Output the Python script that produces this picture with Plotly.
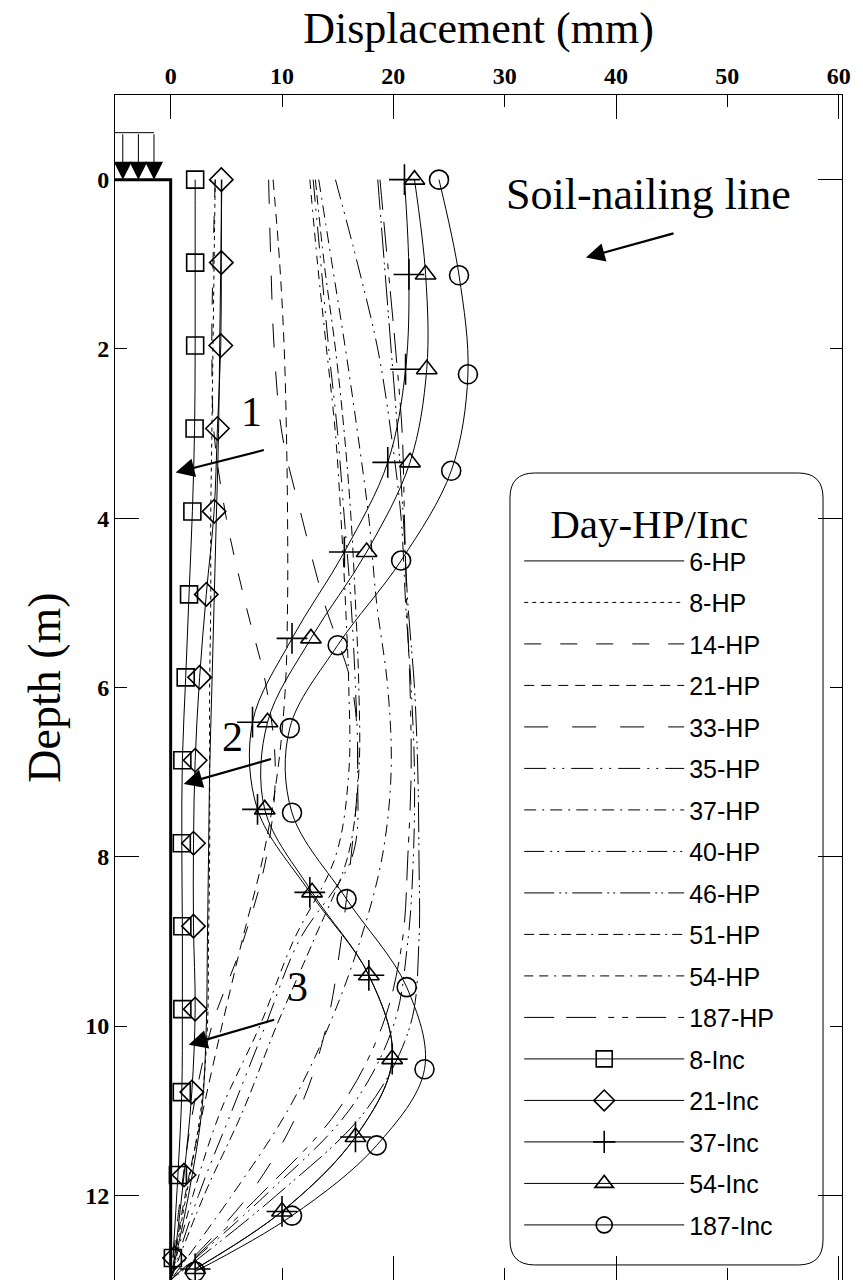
import plotly.graph_objects as go

# ---------------- data ----------------
depth_hp = [0, 1, 2, 3, 4, 5, 6, 7, 8, 9, 10, 11, 12, 13]
hp_6 = [4.6, 4.5, 4.4, 4.3, 4.1, 3.9, 3.7, 3.5, 3.4, 3.3, 3.2, 2.8, 1.6, 0]
hp_8 = [4.0, 3.9, 3.8, 3.7, 3.6, 3.6, 3.5, 3.5, 3.5, 3.4, 3.3, 2.7, 1.4, 0]
hp_14 = [4.0, 3.8, 3.7, 3.9, 5.0, 6.7, 8.6, 9.4, 8.6, 6.5, 3.7, 2.0, 0.9, 0]
hp_21 = [9.2, 9.8, 10.2, 10.4, 10.5, 10.5, 10.3, 9.6, 8.3, 6.4, 4.6, 2.9, 1.3, 0]
hp_33 = [8.8, 9.0, 9.3, 10.0, 11.8, 13.8, 16.3, 16.8, 16.2, 15.3, 14.0, 11.5, 7.0, 0]
hp_35 = [12.8, 13.5, 14.2, 15.0, 15.6, 16.2, 16.6, 16.8, 16.3, 11.5, 8.5, 5.5, 2.5, 0]
hp_37 = [13.3, 14.5, 15.7, 16.8, 17.8, 18.5, 19.5, 19.8, 19.0, 17.0, 14.2, 10.5, 5.5, 0]
hp_40 = [14.8, 16.8, 18.6, 19.8, 20.7, 21.1, 21.6, 21.9, 21.8, 21.3, 20.0, 16.0, 8.5, 0]
hp_46 = [18.6, 19.2, 19.8, 20.4, 20.9, 21.3, 21.9, 22.2, 22.3, 22.3, 21.5, 17.5, 9.5, 0]
hp_51 = [13.0, 13.8, 14.8, 15.6, 16.2, 16.6, 16.9, 16.9, 15.9, 12.8, 9.5, 6.5, 3.0, 0]
hp_54 = [12.5, 13.2, 14.0, 14.8, 15.3, 15.7, 16.0, 16.0, 14.8, 11.0, 8.0, 4.5, 2.0, 0]
hp_187 = [18.8, 19.5, 20.2, 20.8, 21.0, 21.2, 21.5, 21.6, 21.3, 20.8, 19.0, 15.0, 8.0, 0]

depth_inc_a = [0, 0.98, 1.96, 2.94, 3.92, 4.9, 5.88, 6.86, 7.84, 8.82, 9.8, 10.78, 11.76, 12.74]
inc_8 = [2.2, 2.2, 2.2, 2.15, 1.95, 1.65, 1.35, 1.05, 1.0, 1.05, 1.05, 1.0, 0.65, 0.2]
inc_21 = [4.55, 4.55, 4.5, 4.2, 3.9, 3.2, 2.6, 2.2, 2.05, 2.05, 2.2, 1.9, 1.2, 0.35]

depth_inc_b = [0, 1.12, 2.24, 3.34, 4.40, 5.42, 6.41, 7.44, 8.42, 9.40, 10.39, 11.31, 12.19, 12.87]
inc_37 = [21.0, 21.4, 21.1, 19.5, 15.6, 10.9, 7.35, 7.8, 12.5, 17.8, 19.9, 16.6, 10.0, 2.2]
inc_54 = [21.9, 22.9, 23.0, 21.5, 17.6, 12.6, 8.7, 8.45, 12.7, 17.8, 19.9, 16.6, 10.0, 2.2]
depth_inc_c = [0, 1.13, 2.30, 3.44, 4.50, 5.50, 6.48, 7.48, 8.50, 9.54, 10.51, 11.41, 12.24, 12.90]
inc_187 = [24.1, 25.9, 26.7, 25.2, 20.7, 15.0, 10.7, 10.9, 15.8, 21.2, 22.8, 18.5, 10.9, 2.2]

wall_x = [-5, 0, 0]
wall_depth = [0, 0, 13]
load_x = [-4.3, -2.9, -1.5]
load_top = -0.555

x_ticks = [0, 10, 20, 30, 40, 50, 60]
x_major = [0, 20, 40, 60]
y_ticks = [0, 2, 4, 6, 8, 10, 12]
y_major = [0, 4, 8, 12]

SERIF = "Liberation Serif"
SANS = "Liberation Sans"

hp_series = [
    ("6-HP", hp_6, "solid"),
    ("8-HP", hp_8, "4px,4px"),
    ("14-HP", hp_14, "17px,19px"),
    ("21-HP", hp_21, "10px,7px"),
    ("33-HP", hp_33, "24px,24px"),
    ("35-HP", hp_35, "22px,7px,2px,7px,2px,7px"),
    ("37-HP", hp_37, "12px,6px,2px,6px"),
    ("40-HP", hp_40, "20px,6px,2px,5px,2px,6px"),
    ("46-HP", hp_46, "30px,5px,2px,4px,2px,5px"),
    ("51-HP", hp_51, "10px,5px,10px,5px,2px,5px"),
    ("54-HP", hp_54, "9px,6px,9px,6px,2px,6px"),
    ("187-HP", hp_187, "30px,12px,30px,12px,6px,8px,6px,8px"),
]

inc_series = [
    ("8-Inc", depth_inc_a, inc_8, "square-open", 17),
    ("21-Inc", depth_inc_a, inc_21, "diamond-open", 18),
    ("37-Inc", depth_inc_b, inc_37, "cross-thin-open", 22),
    ("54-Inc", depth_inc_b, inc_54, "triangle-up-open", 18),
    ("187-Inc", depth_inc_c, inc_187, "circle-open", 19),
]

fig = go.Figure()

for name, xs, dash in hp_series:
    fig.add_trace(go.Scatter(
        x=xs, y=depth_hp, mode="lines", name=name, legendgroup=name,
        line=dict(color="black", width=1, dash=dash, shape="spline", smoothing=1.0),
    ))

for name, ds, xs, sym, sz in inc_series:
    fig.add_trace(go.Scatter(
        x=xs, y=ds, mode="lines+markers", name=name, legendgroup=name,
        line=dict(color="black", width=1, shape="spline", smoothing=1.0),
        marker=dict(symbol=sym, size=sz, color="black", line=dict(color="black", width=1.6)),
    ))

# wall
fig.add_trace(go.Scatter(x=wall_x, y=wall_depth, mode="lines", showlegend=False,
                         line=dict(color="black", width=3), hoverinfo="skip"))
# load frame
fig.add_trace(go.Scatter(x=[wall_x[0], load_x[-1]], y=[load_top, load_top], mode="lines",
                         showlegend=False, line=dict(color="black", width=1), hoverinfo="skip"))
# dummy for overlay axes (long ticks)
fig.add_trace(go.Scatter(x=[None], y=[None], xaxis="x2", yaxis="y2", showlegend=False,
                         mode="markers", hoverinfo="skip"))

annotations = []
for lx in load_x:
    annotations.append(dict(x=lx, y=0, ax=lx, ay=load_top, xref="x", yref="y", axref="x", ayref="y",
                            text="", showarrow=True, arrowhead=2, arrowsize=3.6, arrowwidth=1,
                            arrowcolor="black", standoff=0))

# labelled arrows: (text, text_x, text_y, tail_x, tail_y, head_x, head_y, size)
labels = [
    ("Soil-nailing line", 42.9, 0.18, 45.3, 0.63, 37.3, 0.92, 44),
    ("1", 7.3, 2.74, 8.5, 3.19, 0.45, 3.46, 42),
    ("2", 5.55, 6.59, 9.15, 6.84, 1.17, 7.14, 42),
    ("3", 11.4, 9.54, 9.43, 9.92, 1.62, 10.22, 42),
]
for txt, tx, ty, ax_, ay_, hx, hy, fs in labels:
    annotations.append(dict(x=tx, y=ty, xref="x", yref="y", text=txt, showarrow=False,
                            font=dict(family=SERIF, size=fs, color="black")))
    annotations.append(dict(x=hx, y=hy, ax=ax_, ay=ay_, xref="x", yref="y", axref="x", ayref="y",
                            text="", showarrow=True, arrowhead=2, arrowsize=1.7, arrowwidth=2.2,
                            arrowcolor="black", standoff=0))

# rounded legend box (paper coords)
x0, x1, y0, y1 = 0.5433, 0.9739, 0.0127, 0.681
rx, ry = 0.034, 0.021
box = (f"M {x0+rx},{y1} L {x1-rx},{y1} Q {x1},{y1} {x1},{y1-ry} L {x1},{y0+ry} "
       f"Q {x1},{y0} {x1-rx},{y0} L {x0+rx},{y0} Q {x0},{y0} {x0},{y0+ry} "
       f"L {x0},{y1-ry} Q {x0},{y1} {x0+rx},{y1} Z")

fig.update_layout(
    width=863, height=1280,
    margin=dict(l=115, r=21, t=95, b=0),
    paper_bgcolor="white", plot_bgcolor="white",
    font=dict(family=SERIF, color="black"),
    shapes=[dict(type="path", path=box, xref="paper", yref="paper",
                 line=dict(color="black", width=1), fillcolor="white", layer="below")],
    annotations=annotations,
    xaxis=dict(range=[-5, 60.3], side="top", tickvals=x_ticks, ticks="inside", ticklen=12,
               tickwidth=1, tickcolor="black", showline=True, linecolor="black", linewidth=1,
               mirror="ticks", showgrid=False, zeroline=False,
               tickfont=dict(family=SERIF, size=24, color="black", weight="bold"),
               title=dict(text="Displacement (mm)", font=dict(family=SERIF, size=44), standoff=6)),
    yaxis=dict(range=[13, -1], tickvals=y_ticks, ticks="inside", ticklen=12, tickwidth=1,
               tickcolor="black", showline=True, linecolor="black", linewidth=1,
               mirror="ticks", showgrid=False, zeroline=False,
               tickfont=dict(family=SERIF, size=24, color="black", weight="bold"),
               title=dict(text="Depth (m)", font=dict(family=SERIF, size=46), standoff=10)),
    xaxis2=dict(range=[-5, 60.3], overlaying="x", side="top", tickvals=x_major, ticks="inside",
                ticklen=24, tickwidth=1, tickcolor="black", mirror="ticks", showticklabels=False,
                showgrid=False, zeroline=False, showline=False),
    yaxis2=dict(range=[13, -1], overlaying="y", side="left", tickvals=y_major, ticks="inside",
                ticklen=24, tickwidth=1, tickcolor="black", mirror="ticks", showticklabels=False,
                showgrid=False, zeroline=False, showline=False),
    legend=dict(x=0.556, y=0.671, xanchor="left", yanchor="top", bgcolor="rgba(0,0,0,0)",
                borderwidth=0, itemwidth=160, tracegroupgap=6,
                font=dict(family=SANS, size=25, color="black"),
                title=dict(text="Day-HP/Inc", side="top center", font=dict(family=SERIF, size=41))),
    showlegend=True,
)

fig.write_html("out.html")
